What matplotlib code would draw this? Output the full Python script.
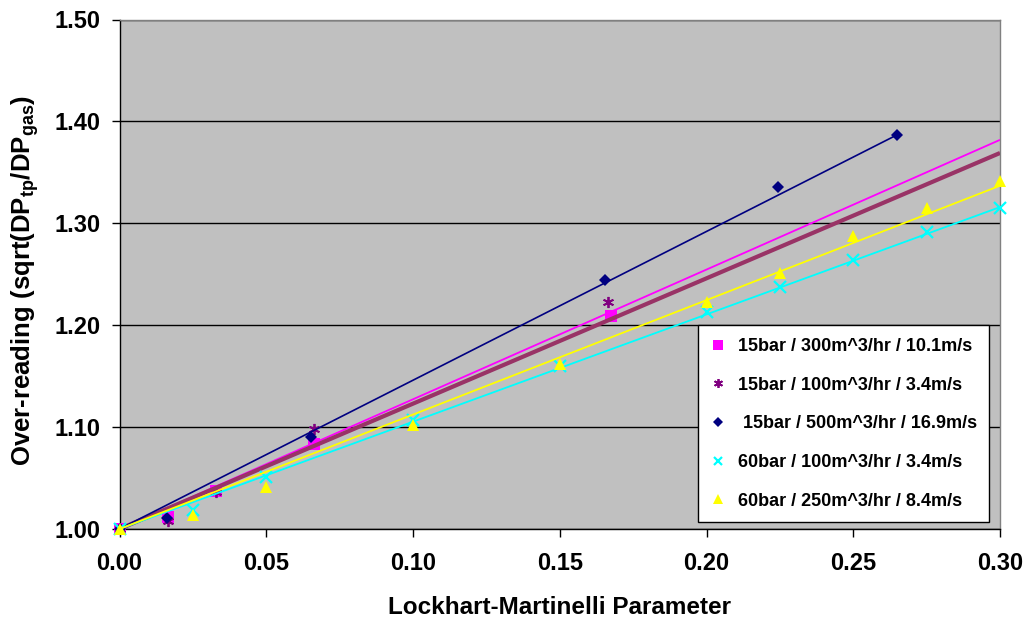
import matplotlib
matplotlib.use("Agg")
import matplotlib.pyplot as plt
import numpy as np

plt.rcParams['font.family'] = ['Liberation Sans', 'DejaVu Sans']
plt.rcParams['font.weight'] = 'bold'
plt.rcParams['mathtext.fontset'] = 'custom'
plt.rcParams['mathtext.rm'] = 'Liberation Sans:bold'
plt.rcParams['mathtext.it'] = 'Liberation Sans:bold'
plt.rcParams['mathtext.bf'] = 'Liberation Sans:bold'

# ---- data ----
labels = ["15bar / 300m^3/hr / 10.1m/s",
          "15bar / 100m^3/hr / 3.4m/s",
          " 15bar / 500m^3/hr / 16.9m/s",
          "60bar / 100m^3/hr / 3.4m/s",
          "60bar / 250m^3/hr / 8.4m/s"]

sq_x = [0.0, 0.0165, 0.0328, 0.0664, 0.1675]
sq_y = [1.000, 1.012, 1.037, 1.083, 1.209]

st_x = [0.0, 0.0165, 0.0330, 0.0662, 0.1664]
st_y = [1.000, 1.008, 1.036, 1.098, 1.2225]

di_x = [0.0, 0.0162, 0.0653, 0.1655, 0.2245, 0.2648]
di_y = [1.000, 1.011, 1.090, 1.244, 1.336, 1.387]

cy_x = [0.0, 0.025, 0.050, 0.100, 0.150, 0.200, 0.225, 0.250, 0.275, 0.300]
cy_y = [1.000, 1.0186, 1.0507, 1.107, 1.160, 1.2127, 1.2376, 1.2637, 1.2915, 1.3154]

ye_x = [0.0, 0.025, 0.050, 0.100, 0.150, 0.200, 0.225, 0.250, 0.275, 0.300]
ye_y = [1.000, 1.0134, 1.041, 1.102, 1.1618, 1.223, 1.2517, 1.2873, 1.315, 1.342]

# trendlines (starting at 1.0): slope and end x
trend_slope = [1.273, 1.230, 1.460, 1.053, 1.123]
trend_end = [0.30, 0.30, 0.2648, 0.30, 0.30]

xticks = [0.00, 0.05, 0.10, 0.15, 0.20, 0.25, 0.30]
yticks = [1.00, 1.10, 1.20, 1.30, 1.40, 1.50]

xs = [sq_x, st_x, di_x, cy_x, ye_x]
ys = [sq_y, st_y, di_y, cy_y, ye_y]
colors = ['#FF00FF', '#800080', '#000080', '#00FFFF', '#FFFF00']
trend_colors = ['#FF00FF', '#993366', '#000080', '#00FFFF', '#FFFF00']
trend_widths = [1.3, 3.0, 1.2, 1.3, 1.3]
markers = ['s', (6, 2, 0), 'D', 'x', '^']
msizes = [9, 8, 6.5, 8, 8.5]
mews = [0, 1.3, 0, 1.6, 0]

fig = plt.figure(figsize=(10.28, 6.20), dpi=100)
ax = fig.add_axes([119.5/1028, 1 - 529/620, (1000-119.5)/1028, (529-19.5)/620])
ax.set_facecolor('#C0C0C0')

handles = []
for i in range(5):
    z = 3 + 2*i
    h, = ax.plot(xs[i], ys[i], linestyle='none', marker=markers[i], markersize=msizes[i],
                 color=colors[i], markeredgewidth=mews[i], zorder=z, clip_on=False,
                 label=labels[i])
    handles.append(h)
    tx = np.array([0.0, trend_end[i]])
    ax.plot(tx, 1.0 + trend_slope[i]*tx, color=trend_colors[i], lw=trend_widths[i],
            zorder=z+1, solid_capstyle='butt')

ax.set_xlim(0, 0.30)
ax.set_ylim(1.0, 1.5)
ax.set_xticks(xticks)
ax.set_yticks(yticks)
ax.set_xticklabels([f"{v:.2f}" for v in xticks])
ax.set_yticklabels([f"{v:.2f}" for v in yticks])
ax.tick_params(axis='both', direction='out', length=5.8, width=1, colors='black',
               labelsize=17)
ax.tick_params(axis='x', pad=11)
ax.tick_params(axis='y', pad=8)
for lab in ax.get_xticklabels() + ax.get_yticklabels():
    lab.set_fontweight('bold')

ax.yaxis.grid(True, color='black', lw=1)
ax.set_axisbelow(True)
for s in ['left', 'bottom']:
    ax.spines[s].set_color('black')
    ax.spines[s].set_linewidth(1)
for s in ['top', 'right']:
    ax.spines[s].set_color('#808080')
    ax.spines[s].set_linewidth(1)

fig.text(560/1028, 1 - 607/620, "Lockhart-Martinelli Parameter", ha='center', va='center',
         fontsize=17.5, fontweight='bold')
fig.text(25/1028, 1 - 280/620, "Over-reading (sqrt(DP$_{tp}$/DP$_{gas}$)", rotation=90,
         ha='center', va='center', fontsize=18.5, fontweight='bold')

leg = ax.legend(handles=handles, loc='upper left', bbox_to_anchor=(0.657, 0.400),
                frameon=True, fancybox=False, edgecolor='black', facecolor='white',
                framealpha=1, prop={'weight': 'bold', 'size': 13},
                handlelength=0.8, handletextpad=0.7, labelspacing=1.2,
                borderpad=0.7, borderaxespad=0, markerscale=0.8)
leg.get_frame().set_linewidth(1)
leg.set_zorder(20)

fig.savefig("out.png", dpi=100)
